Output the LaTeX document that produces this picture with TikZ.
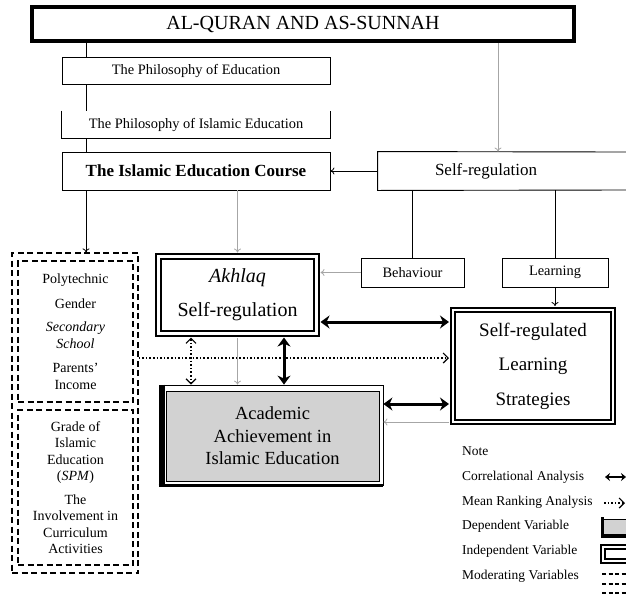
\documentclass[tikz,border=0pt]{standalone}
\usepackage{fontspec}
\setmainfont{Liberation Serif}
\usetikzlibrary{arrows.meta,positioning}

\begin{document}
\begin{tikzpicture}[x=1pt,y=-1pt,
  box/.style={draw,line width=0.9pt,inner sep=0pt,font=\fontsize{14.4}{17}\selectfont},
  indep/.style={draw,double,line width=2pt,double distance=2.4pt,inner sep=0pt,align=center},
  moderating/.style={draw,dash pattern=on 6pt off 3.5pt,line width=1.3pt,inner sep=0pt,align=center,font=\fontsize{14}{16.5}\selectfont},
  link/.style={line width=0.8pt,-{To[length=4pt,width=7pt]}},
  faint/.style={black!35,line width=0.8pt,-{To[length=4pt,width=7pt]}},
  corr/.style={line width=3pt,{Stealth[length=9pt,width=13pt]}-{Stealth[length=9pt,width=13pt]}},
  meanrank/.style={dotted,line width=1.6pt,-{Straight Barb[length=5pt,width=10pt,line width=1.2pt]}},
  note/.style={anchor=west,inner sep=0pt,font=\fontsize{13.5}{16}\selectfont}]

  \useasboundingbox (0,0) rectangle (626,595);
  \clip (0,0) rectangle (626,595);

  \node[draw,line width=4pt,minimum width=542pt,minimum height=34pt,font=\fontsize{20}{24}\selectfont] (quran) at (303,24) {AL-QURAN AND AS-SUNNAH};

  \node[box,minimum width=268pt,minimum height=27pt] (phil) at (196,70.5) {The Philosophy of Education};
  \node[box,draw=none,minimum width=268pt,minimum height=27pt] (philis) at (196,124.5) {The Philosophy of Islamic Education};
  \draw[line width=0.9pt] (philis.north west) -- (philis.south west) -- (philis.south east) -- (philis.north east);
  \node[box,minimum width=268pt,minimum height=38pt,font=\bfseries\fontsize{17}{20}\selectfont] (course) at (196,171) {The Islamic Education Course};

  \node[box,draw=none,minimum width=216pt,minimum height=38pt,font=\fontsize{17}{20}\selectfont] (selfreg) at (486,171) {Self-regulation};
  \draw[line width=0.9pt] (626,152) -- (selfreg.north west) -- (selfreg.south west) -- (626,190);

  \node[box,minimum width=103pt,minimum height=29pt] (behav) at (412.5,272.5) {Behaviour};
  \node[box,minimum width=106pt,minimum height=29pt] (learn) at (555,272.5) {Learning};

  \node[indep,minimum width=158pt,minimum height=77pt,font=\fontsize{20}{34}\selectfont] (akhlaq) at (237.5,295) {\textit{Akhlaq}\\Self-regulation};
  \node[indep,minimum width=160pt,minimum height=112pt,font=\fontsize{19}{34.5}\selectfont] (srls) at (533,366) {Self-regulated\\Learning\\Strategies};

  \node[draw,line width=0.8pt,minimum width=224pt,minimum height=100pt,inner sep=0pt] (acad) at (271,435) {};
  \draw[line width=6pt] ([xshift=3pt]acad.north west) -- ([xshift=3pt]acad.south west);
  \draw[line width=2.5pt] (acad.south west) -- (acad.south east);
  \node[draw,fill=gray!35,line width=0.8pt,minimum width=213pt,minimum height=90pt,inner sep=0pt,align=center,font=\fontsize{18.5}{22.5}\selectfont] (acadtext) at (272.5,436) {Academic\\Achievement in\\Islamic Education};

  \node[moderating,minimum width=126pt,minimum height=320pt] (moder) at (75,413) {};
  \node[moderating,minimum width=115pt,minimum height=141pt] (modtop) at (75.5,331.5) {Polytechnic\\[8pt]Gender\\[7pt]\textit{Secondary}\\\textit{School}\\[8pt]Parents'\\Income};
  \node[moderating,minimum width=115pt,minimum height=155pt] (modbot) at (75.5,487.5) {Grade of\\Islamic\\Education\\(\textit{SPM})\\[7pt]The\\Involvement in\\Curriculum\\Activities};

  \coordinate (spine) at (86,0);
  \coordinate (mid) at (284,0);
  \coordinate (dots) at (191,0);

  \draw[line width=0.8pt] (quran.south -| spine) -- (phil.north -| spine);
  \draw[line width=0.8pt] (phil.south -| spine) -- (philis.north -| spine);
  \draw[line width=0.8pt] (philis.south -| spine) -- (course.north -| spine);
  \draw[link] (course.south -| spine) -- (moder.north -| spine);

  \draw[faint] ([xshift=12pt]selfreg.north |- quran.south) -- ([xshift=12pt]selfreg.north);
  \draw[link] (selfreg.west) -- (course.east);
  \draw[line width=0.8pt] (selfreg.south -| behav.north) -- (behav.north);
  \draw[line width=0.8pt] (selfreg.south -| learn.north) -- (learn.north);
  \draw[faint,shorten >=3pt] (behav.west) -- (behav.west -| akhlaq.east);
  \draw[link,shorten >=3pt] (learn.south) -- (learn.south |- srls.north);
  \draw[faint,shorten >=3pt] (course.south -| akhlaq.north) -- (akhlaq.north);
  \draw[faint,shorten <=3pt] (akhlaq.south) -- (akhlaq.south |- acad.north);

  \draw[corr,shorten <=3pt,shorten >=3pt] ([yshift=-27pt]akhlaq.east) -- ([yshift=-27pt]akhlaq.east -| srls.west);
  \draw[corr,shorten <=3pt] (akhlaq.south -| mid) -- (acad.north -| mid);
  \draw[meanrank,{Straight Barb[length=5pt,width=10pt,line width=1.2pt]}-{Straight Barb[length=5pt,width=10pt,line width=1.2pt]},shorten <=3pt] (akhlaq.south -| dots) -- (acad.north -| dots);
  \draw[meanrank,shorten >=3pt] ([yshift=55pt]moder.east) -- ([yshift=55pt]moder.east -| srls.west);
  \draw[corr,shorten >=3pt] ([yshift=31pt]acad.east) -- ([yshift=31pt]acad.east -| srls.west);
  \draw[faint,shorten <=3pt] ([yshift=13pt]acad.east -| srls.west) -- ([yshift=13pt]acad.east);

  \node[note] (notekey) at (462,451) {Note};
  \node[note] (corrkey) at (462,477) {Correlational Analysis};
  \node[note] (meankey) at (462,502) {Mean Ranking Analysis};
  \node[note] (depkey) at (462,526) {Dependent Variable};
  \node[note] (indkey) at (462,551) {Independent Variable};
  \node[note] (modkey) at (462,576) {Moderating Variables};

  \draw[line width=1.8pt,{Stealth[length=5pt,width=8pt]}-{Stealth[length=5pt,width=8pt]}] (605,477) -- (626,477);
  \draw[meanrank] (604,503) -- (625,503);
  \draw[line width=0.8pt,fill=gray!35] (603,519) rectangle (634,534);
  \draw[line width=3pt] (602,517) -- (602,536) -- (634,536);
  \draw[double,line width=1.8pt,double distance=2pt] (603,547) rectangle (640,561);
  \draw[dash pattern=on 4pt off 2.5pt,line width=1.2pt] (602,574) -- (630,574);
  \draw[dash pattern=on 4pt off 2.5pt,line width=1.2pt] (602,584) -- (630,584);
  \draw[dash pattern=on 4pt off 2.5pt,line width=1.2pt] (602,593) -- (630,593);

\end{tikzpicture}
\end{document}
